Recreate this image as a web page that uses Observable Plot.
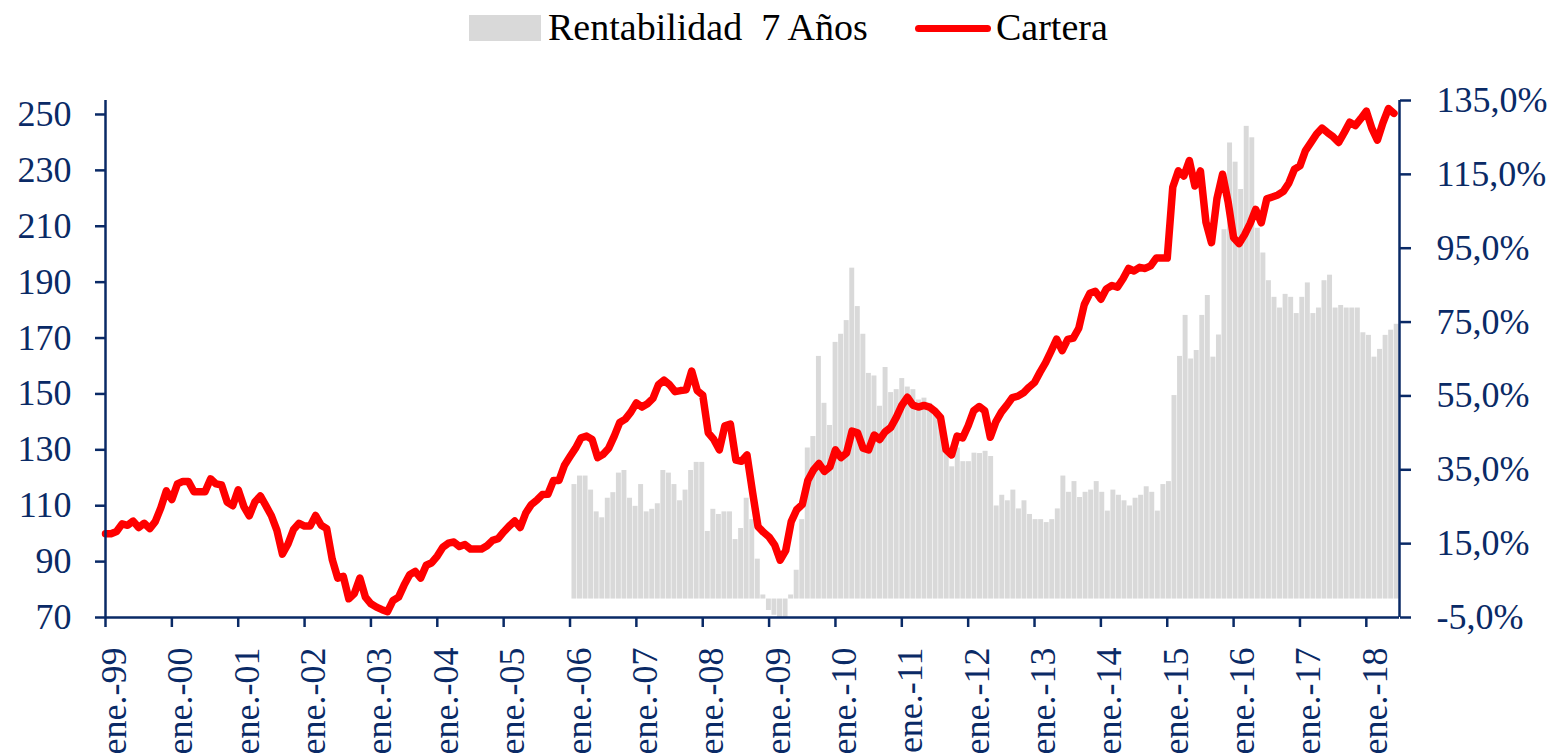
<!DOCTYPE html>
<html>
<head>
<meta charset="utf-8">
<script src="https://cdn.jsdelivr.net/npm/d3@7"></script>
<script src="https://cdn.jsdelivr.net/npm/@observablehq/plot@0.6"></script>
<style>
html,body{margin:0;padding:0;background:#fff;overflow:hidden;width:1559px;height:755px;}
#legend{position:relative;width:1559px;height:60px;font-family:"Liberation Serif",serif;font-size:38px;color:#000;}
#legend .sw{position:absolute;left:469px;top:15px;width:72px;height:26px;background:#d9d9d9;}
#legend .ln{position:absolute;left:915px;top:25px;width:76px;height:7px;background:#ff0000;border-radius:4px;}
#legend .t{position:absolute;top:8px;line-height:1;white-space:pre;}
#chart svg{display:block;}
</style>
</head>
<body>
<div id="legend">
  <div class="sw"></div><div class="t" style="left:548px">Rentabilidad  7 Años</div>
  <div class="ln"></div><div class="t" style="left:996px">Cartera</div>
</div>
<div id="chart"></div>
<script>
// Cartera (left axis), monthly from ene-99 to jun-18
const carteraValues = [
  100,100,100.8,103.5,103,104.5,102.2,103.7,101.8,104.3,109.2,115.3,
  112.2,117.8,118.7,118.7,115,115,115,119.6,117.8,117.4,111.3,110,
  115.7,109.8,106.4,111.3,113.5,110,106.4,101.2,92.7,96.3,101.5,103.7,
  102.7,102.7,106.5,103,101.8,90.8,84.1,84.7,76.7,78.6,84.1,77.3,
  74.9,73.7,72.8,72.1,76.1,77.3,81.6,85.3,86.5,84.1,88.7,89.6,
  92.0,95.1,96.6,97,95.4,96.1,94.5,94.5,94.5,95.7,97.6,98.2,
  100.6,102.7,104.5,102.2,107.4,110.4,112,114,114.1,119,119,124.5,
  127.6,130.6,134.3,134.9,133.7,127.2,128.4,130.6,134.9,139.8,141,143.5,
  146.8,145.3,146.5,148.4,153.3,154.9,153.3,150.8,151.2,151.5,158.2,151.2,
  149.6,136.1,133.7,130,138.6,139.2,126.3,125.9,128.2,115,102.5,100.5,
  98.8,96,90.5,93.9,104.3,108.6,110.4,119,122.7,125.1,122.3,123.9,
  130,127.2,128.8,136.7,136.1,130.6,130,135.3,133.7,136.5,138,141.6,
  145.9,148.8,146,145.3,145.9,145.3,143.8,141.6,130,128.2,134.9,134.3,
  138.6,144,145.5,144,134.5,140,143.5,146,148.7,149.2,150.4,152.4,
  154.1,157.8,161.2,165.3,169.6,165.5,169.5,170,173.5,182,186,186.7,
  183.9,187.6,188.8,188.2,191.2,194.9,194,195.3,194.9,195.8,198.6,198.6,
  198.6,224,229.8,228,233.5,224.4,229.8,211.4,204.1,220,228.6,218.8,
  205.9,203.8,207,211,216,211.2,219.8,220.5,221.2,222.5,225.5,230.4,
  231.6,237.1,240,243,245.1,243.5,242,240,243.5,247.2,246,248.5,
  251.2,245,240.8,247,252.1,250.4
];
// Rentabilidad 7 Años (right axis, %), monthly from ene-06 to may-18
const rentabilidadValues = [
  31.0,33.3,33.3,29.5,23.6,22.0,27.3,28.8,34.1,34.8,27.3,25.1,
  31.0,23.6,24.3,25.8,34.8,34.1,31.0,26.6,29.5,34.8,37.0,37.0,
  18.3,24.3,22.9,23.6,23.6,16.1,19.1,27.3,21.5,10.8,1.1,-3.1,
  -4.4,-5.5,-5.5,1.1,7.8,21.5,40.9,44.0,65.7,53.0,47.0,69.5,
  71.7,75.4,89.6,79.2,71.7,61.1,60.4,52.2,62.7,55.9,56.7,59.7,
  57.4,56.7,53.9,54.4,53.0,50.2,47.4,40.0,35.8,40.9,37.2,37.2,
  39.5,39.4,40.0,38.6,25.2,28.1,26.6,29.5,24.4,26.6,22.9,21.5,
  21.5,20.7,21.5,24.4,33.3,28.9,31.8,27.5,28.9,29.5,31.8,28.9,
  23.8,29.5,28.1,26.6,25.2,27.3,28.1,30.4,28.9,23.8,31.0,31.8,
  55.1,65.7,76.8,65.0,67.3,76.8,82.2,65.5,71.5,100,123.5,118.3,
  110.9,128,124.9,100.4,93.7,86.2,81.7,78.8,82.5,81.7,77.3,81.7,
  85.6,77.3,78.8,86.2,87.7,78.8,79.5,78.8,78.8,78.8,72.1,71.4,
  65.5,67.6,71.4,72.8,74.4
];
const xTickLabels = ["ene.-99","ene.-00","ene.-01","ene.-02","ene.-03","ene.-04","ene.-05","ene.-06","ene.-07","ene.-08","ene.-09","ene.-10","ene.-11","ene.-12","ene.-13","ene.-14","ene.-15","ene.-16","ene.-17","ene.-18"];
const leftTicks = [70,90,110,130,150,170,190,210,230,250];
const rightTicks = [-5,15,35,55,75,95,115,135];
const rightTickLabels = ["-5,0%","15,0%","35,0%","55,0%","75,0%","95,0%","115,0%","135,0%"];

const NAVY = "#0a2a66";
const LEFT_MIN = 70, LEFT_MAX = 255, RIGHT_MIN = -5, RIGHT_MAX = 135;
const toLeft = p => LEFT_MIN + (p - RIGHT_MIN) * (LEFT_MAX - LEFT_MIN) / (RIGHT_MAX - RIGHT_MIN);
const X_END = 234;            // month index where the axis ends
const BAR_START = 84.3;       // first bar (ene-06) left edge, in months
const barW = (X_END - BAR_START) / rentabilidadValues.length;

const lineData = carteraValues.map((v, i) => ({i, v}));
const barData = rentabilidadValues.map((v, j) => ({j, v}));
const xTicks = xTickLabels.map((_, k) => k * 12);
const rightTicksLeft = rightTicks.map(toLeft);

const chart = Plot.plot({
  width: 1559, height: 695,
  marginTop: 40, marginBottom: 138, marginLeft: 105, marginRight: 160,
  style: {fontFamily: "Liberation Serif", fontSize: "36px", color: NAVY, background: "white", overflow: "visible"},
  x: {domain: [0, X_END], axis: null},
  y: {domain: [LEFT_MIN, LEFT_MAX], axis: null},
  marks: [
    Plot.rect(barData, {
      x1: d => BAR_START + d.j * barW, x2: d => BAR_START + (d.j + 1) * barW,
      y1: d => toLeft(0), y2: d => toLeft(d.v),
      fill: "#d9d9d9", insetLeft: 0.3, insetRight: 0.3, clip: true
    }),
    Plot.line(lineData, {x: "i", y: "v", stroke: "#ff0000", strokeWidth: 7.5, strokeLinejoin: "round", strokeLinecap: "round"}),
    Plot.ruleX([0], {stroke: NAVY, strokeWidth: 2.5}),
    Plot.ruleX([X_END], {stroke: NAVY, strokeWidth: 2.5}),
    Plot.ruleY([LEFT_MIN], {stroke: NAVY, strokeWidth: 2.5}),
    Plot.axisY({anchor: "left", label: null, ticks: leftTicks, tickSize: 10, tickPadding: 24, strokeWidth: 2.5, fontSize: 36, tickFormat: d => String(d)}),
    Plot.axisY({anchor: "right", label: null, ticks: rightTicksLeft, tickSize: 11, tickPadding: 26, strokeWidth: 2.5, fontSize: 36, tickFormat: d => rightTickLabels[rightTicksLeft.indexOf(d)]}),
    Plot.axisX({label: null, ticks: xTicks, tickSize: 10, strokeWidth: 2.5, tickFormat: () => ""}),
    Plot.text(xTicks, {x: d => d, frameAnchor: "bottom", text: (d, k) => xTickLabels[k], rotate: -90, textAnchor: "end", lineAnchor: "middle", dy: 30, dx: 9, fontSize: 36, fill: NAVY})
  ]
});
document.getElementById("chart").appendChild(chart);
</script>
</body>
</html>
